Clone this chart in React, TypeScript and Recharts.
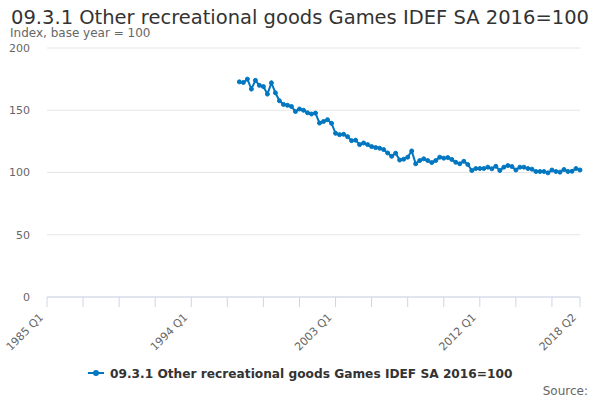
import { LineChart, Line, XAxis, YAxis, CartesianGrid } from "recharts";

// quarter labels 1985 Q1 .. 2018 Q2
const quarters: string[] = [];
for (let y = 1985; y <= 2018; y++) {
  for (let q = 1; q <= 4; q++) {
    if (y === 2018 && q > 2) break;
    quarters.push(`${y} Q${q}`);
  }
}

const seriesStart = "1997 Q1";
const games = [
  172.8, 172.3, 175.0, 167.0, 174.0, 170.0, 169.0, 163.0, 172.0, 164.0,
  157.6, 154.7, 154.0, 153.0, 149.0, 151.0, 150.0, 148.0, 147.0, 147.7,
  139.7, 141.0, 142.4, 139.5, 131.5, 130.4, 130.7, 128.8, 125.6, 126.0,
  122.4, 123.7, 122.4, 120.8, 120.0, 119.5, 118.4, 115.7, 113.0, 115.5,
  110.0, 110.7, 112.3, 117.3, 107.0, 109.6, 111.0, 109.6, 108.0, 109.6,
  112.3, 111.5, 112.0, 110.5, 108.2, 107.0, 109.0, 106.4, 101.6, 103.2,
  103.2, 103.2, 104.3, 103.0, 105.0, 101.6, 104.3, 105.6, 104.8, 102.0,
  104.3, 104.3, 103.2, 102.7, 100.8, 100.8, 100.8, 99.7, 102.0, 100.8,
  100.3, 102.4, 100.8, 101.0, 103.2, 102.0,
];

const labelledTicks = ["1985 Q1", "1994 Q1", "2003 Q1", "2012 Q1", "2018 Q2"];
const yTicks = [0, 50, 100, 150, 200];
const seriesName = "09.3.1 Other recreational goods Games IDEF SA 2016=100";

const startIdx = quarters.indexOf(seriesStart);
const data = games.map((v, k) => ({ i: startIdx + k, v }));
const last = quarters.length - 1;
const tickIdx: number[] = [];
for (let i = 0; i < last; i += 9) tickIdx.push(i);
tickIdx.push(last);

const BLUE = "#0077c0";

function QuarterTick(props: any) {
  const { x, y, payload } = props;
  const label = quarters[payload.value];
  if (!labelledTicks.includes(label)) return null;
  const ax = x - 3;
  const ay = y + 9;
  return (
    <text
      x={ax}
      y={ay}
      transform={`rotate(-45 ${ax} ${ay})`}
      textAnchor="end"
      fill="#666666"
      fontSize={11}
    >
      {label}
    </text>
  );
}

export default function App() {
  return (
    <div
      style={{
        position: "absolute",
        left: 0,
        top: 0,
        width: 600,
        height: 400,
        background: "#fff",
        fontFamily: '"DejaVu Sans", sans-serif',
      }}
    >
      <LineChart
        width={600}
        height={400}
        data={data}
        margin={{ top: 48, right: 20, bottom: 43, left: 10 }}
      >
        <CartesianGrid vertical={false} stroke="#e6e6e6" />
        <XAxis
          type="number"
          dataKey="i"
          domain={[0, last]}
          ticks={tickIdx}
          interval={0}
          height={60}
          stroke="#ccd6eb"
          tickSize={10}
          tick={<QuarterTick />}
        />
        <YAxis
          domain={[0, 200]}
          ticks={yTicks}
          width={37}
          axisLine={false}
          tickLine={false}
          tickSize={0}
          tickMargin={17}
          tick={{ fill: "#666666", fontSize: 11 }}
        />
        <Line
          dataKey="v"
          stroke={BLUE}
          strokeWidth={2}
          dot={{ r: 2, fill: BLUE, stroke: BLUE, strokeWidth: 1 }}
          isAnimationActive={false}
        />
      </LineChart>
      <svg
        width={600}
        height={400}
        style={{ position: "absolute", left: 0, top: 0, pointerEvents: "none" }}
        fontFamily='"DejaVu Sans", sans-serif'
      >
        <text x={300} y={24} textAnchor="middle" fontSize={19.5} fill="#333333">
          {seriesName}
        </text>
        <text x={10} y={37} fontSize={12} fill="#666666">
          Index, base year = 100
        </text>
        <line x1={88} y1={373} x2={104} y2={373} stroke={BLUE} strokeWidth={2} />
        <circle cx={96} cy={373} r={3} fill={BLUE} />
        <text x={110} y={377.5} fontSize={12.2} fontWeight="bold" fill="#333333">
          {seriesName}
        </text>
        <text x={588} y={395} textAnchor="end" fontSize={12} fill="#666666">
          Source:
        </text>
      </svg>
    </div>
  );
}
